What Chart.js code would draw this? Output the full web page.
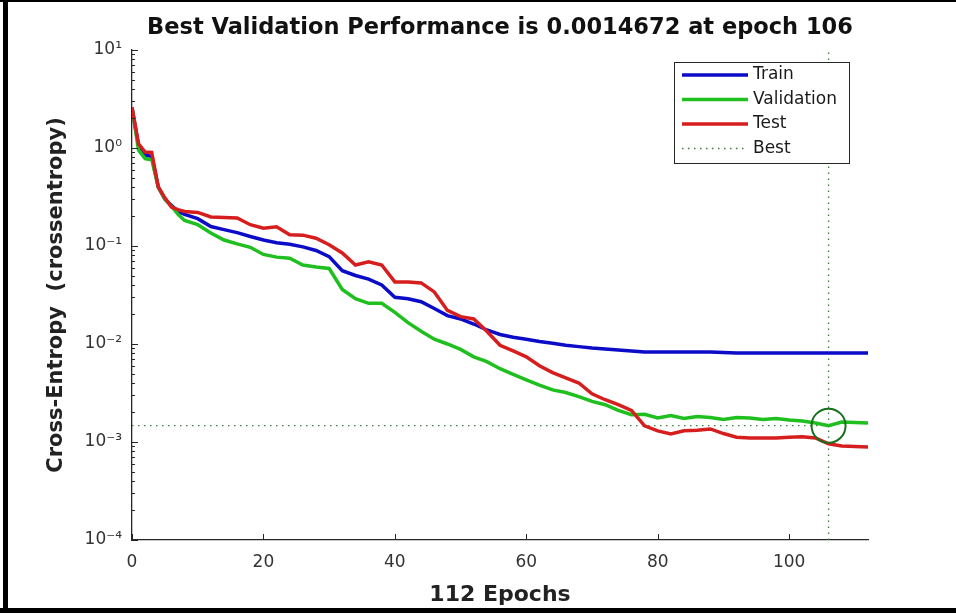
<!DOCTYPE html>
<html>
<head>
<meta charset="utf-8">
<script src="https://cdn.jsdelivr.net/npm/chart.js@4.4.0/dist/chart.umd.min.js"></script>
<style>
  html, body { margin: 0; padding: 0; background: #fff; }
  #wrap { position: relative; width: 956px; height: 614px; }
</style>
</head>
<body>
<div id="wrap"><canvas id="perfChart" width="956" height="614"></canvas></div>
<script>
const epochs = [0, 1, 2, 3, 4, 5, 6, 7, 8, 10, 12, 14, 16, 18, 20, 22, 24, 26, 28, 30,
  32, 34, 36, 38, 40, 42, 44, 46, 48, 50, 52, 54, 56, 58, 60, 62, 64, 66, 68, 70,
  72, 74, 76, 78, 80, 82, 84, 86, 88, 90, 92, 94, 96, 98, 100, 102, 104, 106, 108, 110, 112];

const trainLoss = [2.55, 1.05, 0.85, 0.82, 0.40, 0.30, 0.26, 0.225, 0.21, 0.19, 0.158, 0.147, 0.137, 0.125, 0.115, 0.108, 0.104, 0.098, 0.09, 0.078,
  0.056, 0.05, 0.046, 0.040, 0.030, 0.029, 0.027, 0.023, 0.0195, 0.018, 0.016, 0.0139, 0.0125, 0.0117, 0.0112, 0.0106, 0.0102, 0.0097, 0.0094, 0.0091,
  0.0089, 0.0087, 0.0085, 0.0083, 0.0083, 0.0083, 0.0083, 0.0083, 0.0083, 0.0082, 0.0081, 0.0081, 0.0081, 0.0081, 0.0081, 0.0081, 0.0081, 0.0081, 0.0081, 0.0081, 0.0081];

const validLoss = [2.6, 0.95, 0.78, 0.76, 0.40, 0.30, 0.255, 0.21, 0.182, 0.165, 0.136, 0.115, 0.105, 0.097, 0.082, 0.077, 0.075, 0.064, 0.061, 0.059,
  0.036, 0.029, 0.026, 0.026, 0.021, 0.0165, 0.0135, 0.0112, 0.0100, 0.0088, 0.0074, 0.0066, 0.0056, 0.0049, 0.0043, 0.0038, 0.0034, 0.0032, 0.0029, 0.0026,
  0.0024, 0.0021, 0.0019, 0.00192, 0.00176, 0.00186, 0.00174, 0.00182, 0.00178, 0.00170, 0.00178, 0.00176, 0.00170, 0.00174, 0.00168, 0.00164, 0.00156, 0.00147, 0.0016, 0.00158, 0.00156];

const testLoss = [2.6, 1.1, 0.91, 0.90, 0.40, 0.31, 0.25, 0.235, 0.225, 0.22, 0.198, 0.195, 0.193, 0.165, 0.152, 0.157, 0.13, 0.129, 0.12, 0.103,
  0.085, 0.064, 0.069, 0.064, 0.043, 0.043, 0.042, 0.034, 0.022, 0.019, 0.018, 0.0135, 0.0097, 0.0085, 0.0074, 0.0060, 0.0051, 0.0045, 0.0040, 0.0031,
  0.0027, 0.0024, 0.0021, 0.00146, 0.0013, 0.00121, 0.0013, 0.00132, 0.00136, 0.00122, 0.00112, 0.0011, 0.0011, 0.0011, 0.00112, 0.00113, 0.0011, 0.00096, 0.00091, 0.0009, 0.00089];

const bestEpoch = 106;
const bestPerf = 0.0014672;
const yTicks = [1e-4, 1e-3, 1e-2, 1e-1, 1, 10];

const FONT = '"DejaVu Sans", "Liberation Sans", Arial, sans-serif';
const AXIS_COLOR = '#262626';

function toPoints(values) {
    return epochs.map((e, i) => ({ x: e, y: values[i] }));
}

// 10^k with unicode superscript exponent
function powerLabel(v) {
    const sup = { '-': '\u207B', '0': '\u2070', '1': '\u00B9', '2': '\u00B2', '3': '\u00B3', '4': '\u2074' };
    const k = String(Math.round(Math.log10(v)));
    return '10' + k.split('').map(c => sup[c]).join('');
}

// inward major / minor tick marks like the matlab axes
const axisTicks = {
    id: 'axisTicks',
    afterDatasetsDraw(chart) {
        const { ctx, chartArea: a, scales: { x, y } } = chart;
        ctx.save();
        ctx.strokeStyle = AXIS_COLOR;
        ctx.lineWidth = 1;
        ctx.beginPath();
        for (let k = -4; k <= 0; k++) {
            for (let m = 1; m <= 9; m++) {
                const py = Math.round(y.getPixelForValue(m * Math.pow(10, k))) + 0.5;
                const len = m === 1 ? 6 : 3;
                ctx.moveTo(a.left, py);
                ctx.lineTo(a.left + len, py);
            }
        }
        const topY = Math.round(y.getPixelForValue(10)) + 0.5;
        ctx.moveTo(a.left, topY);
        ctx.lineTo(a.left + 6, topY);
        x.ticks.forEach(t => {
            const px = Math.round(x.getPixelForValue(t.value)) + 0.5;
            ctx.moveTo(px, a.bottom);
            ctx.lineTo(px, a.bottom - 6);
        });
        ctx.stroke();
        ctx.restore();
    }
};

// boxed legend in the upper right corner of the axes
const boxLegend = {
    id: 'boxLegend',
    afterDraw(chart) {
        const ctx = chart.ctx;
        const items = chart.data.datasets.filter(d => !d.hideInLegend);
        const box = { x: 674, y: 62, w: 175, h: 101 };
        ctx.save();
        ctx.fillStyle = '#fff';
        ctx.fillRect(box.x, box.y, box.w, box.h);
        ctx.strokeStyle = AXIS_COLOR;
        ctx.lineWidth = 1;
        ctx.strokeRect(box.x + 0.5, box.y + 0.5, box.w, box.h);
        ctx.font = '17px ' + FONT;
        ctx.textBaseline = 'middle';
        items.forEach((d, i) => {
            const cy = box.y + 13 + i * 24.5;
            ctx.strokeStyle = d.borderColor;
            ctx.lineWidth = d.borderWidth;
            ctx.setLineDash(d.borderDash || []);
            ctx.beginPath();
            ctx.moveTo(box.x + 8, cy);
            ctx.lineTo(box.x + 74, cy);
            ctx.stroke();
            ctx.fillStyle = '#1a1a1a';
            ctx.fillText(d.label, box.x + 79, cy);
        });
        ctx.restore();
    }
};

// black frame of the screenshot
const frame = {
    id: 'frame',
    afterDraw(chart) {
        const ctx = chart.ctx;
        ctx.save();
        ctx.fillStyle = '#000';
        ctx.fillRect(0, 0, 956, 2);
        ctx.fillRect(3, 0, 5, 612);
        ctx.fillRect(0, 608, 956, 5);
        ctx.restore();
    }
};

const ctx = document.getElementById('perfChart').getContext('2d');

new Chart(ctx, {
    type: 'line',
    data: {
        datasets: [
            {
                label: 'Train',
                data: toPoints(trainLoss),
                borderColor: '#0b0bc8',
                borderWidth: 3.5,
                pointRadius: 0,
                order: 3
            },
            {
                label: 'Validation',
                data: toPoints(validLoss),
                borderColor: '#1fbf1f',
                borderWidth: 3.5,
                pointRadius: 0,
                order: 2
            },
            {
                label: 'Test',
                data: toPoints(testLoss),
                borderColor: '#d61e1e',
                borderWidth: 3.5,
                pointRadius: 0,
                order: 1
            },
            {
                label: 'Best',
                data: [{ x: 0, y: bestPerf }, { x: bestEpoch, y: bestPerf }],
                borderColor: '#3f7a3f',
                borderWidth: 1.3,
                borderDash: [1.5, 4.5],
                pointRadius: 0,
                order: 4
            },
            {
                label: 'Best epoch',
                hideInLegend: true,
                data: [{ x: bestEpoch, y: 1e-4 }, { x: bestEpoch, y: 10 }],
                borderColor: '#3f7a3f',
                borderWidth: 1.3,
                borderDash: [1.5, 4.5],
                pointRadius: 0,
                order: 4
            },
            {
                label: 'Best point',
                hideInLegend: true,
                data: [{ x: bestEpoch, y: bestPerf }],
                showLine: false,
                pointRadius: 17,
                pointBorderWidth: 2,
                pointBorderColor: '#17701c',
                pointBackgroundColor: 'rgba(0,0,0,0)',
                order: 0
            }
        ]
    },
    options: {
        responsive: false,
        devicePixelRatio: 1,
        animation: false,
        layout: { padding: { left: 0, right: 88, top: 0, bottom: 0 } },
        elements: { line: { tension: 0 } },
        plugins: {
            legend: { display: false },
            tooltip: { enabled: false },
            title: {
                display: true,
                fullSize: false,
                text: 'Best Validation Performance is 0.0014672 at epoch 106',
                color: '#111',
                font: { family: FONT, size: 22.5, weight: 'bold' },
                padding: { top: 15, bottom: 8 }
            }
        },
        scales: {
            x: {
                type: 'linear',
                min: 0,
                max: 112,
                afterFit(scale) { scale.height = 74; },
                ticks: {
                    stepSize: 20,
                    includeBounds: false,
                    maxRotation: 0,
                    padding: 12,
                    color: '#333',
                    font: { family: FONT, size: 17 }
                },
                grid: { display: false, drawTicks: false },
                border: { display: true, color: AXIS_COLOR, width: 1.3 },
                title: {
                    display: true,
                    text: '112 Epochs',
                    color: '#222',
                    font: { family: FONT, size: 22, weight: 'bold' },
                    padding: { top: 0, bottom: 6 }
                }
            },
            y: {
                type: 'logarithmic',
                min: 1e-4,
                max: 10,
                afterFit(scale) { scale.width = 132; },
                afterBuildTicks(scale) { scale.ticks = yTicks.map(v => ({ value: v })); },
                ticks: {
                    padding: 10,
                    color: '#333',
                    font: { family: FONT, size: 17 },
                    callback: v => powerLabel(v)
                },
                grid: { display: false, drawTicks: false },
                border: { display: true, color: AXIS_COLOR, width: 1.3 },
                title: {
                    display: true,
                    text: 'Cross-Entropy  (crossentropy)',
                    color: '#222',
                    font: { family: FONT, size: 21, weight: 'bold' },
                    padding: { top: 44, bottom: 0 }
                }
            }
        }
    },
    plugins: [axisTicks, boxLegend, frame]
});
</script>
</body>
</html>
